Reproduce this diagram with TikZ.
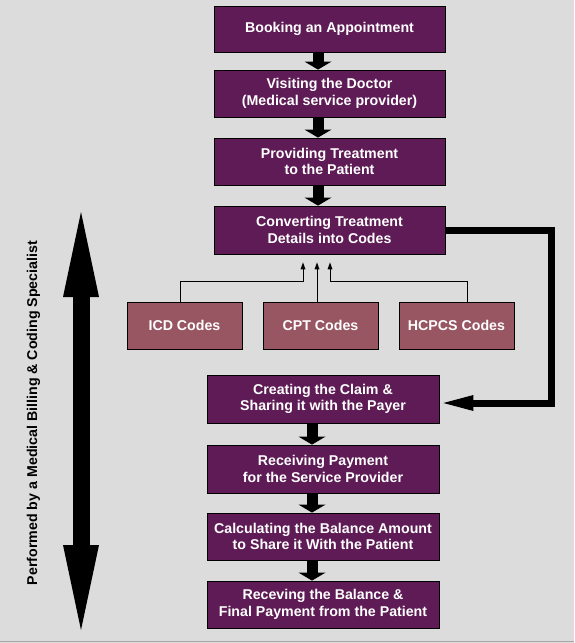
\documentclass[tikz,border=0pt]{standalone}
\usepackage{fontspec}
\setmainfont{Liberation Sans}
\usetikzlibrary{arrows.meta,calc}
\definecolor{bg}{HTML}{DCDCDC}
\definecolor{plum}{HTML}{5E1B55}
\definecolor{rose}{HTML}{985663}
\tikzset{
  stepbox/.style={draw=black, line width=0.8pt, fill=plum, text=white, inner sep=0pt,
    minimum width=231pt, minimum height=47pt, align=center,
    font=\fontsize{14.2}{16.5}\selectfont\bfseries},
  codebox/.style={draw=black, line width=0.8pt, fill=rose, text=white, inner sep=0pt,
    minimum width=115pt, minimum height=47pt, align=center,
    font=\fontsize{14.2}{16.5}\selectfont\bfseries},
  blockarrow/.style={line width=11pt, -{Triangle[length=8pt,width=27pt,line width=0pt]}},
  thinarrow/.style={line width=0.8pt, -{Triangle[length=7pt,width=5pt,line width=0pt]}},
  looparrow/.style={line width=7pt, -{Triangle[length=30pt,width=16pt,line width=0pt]}},
  bigarrow/.style={line width=17pt, {Triangle[length=85pt,width=36pt,line width=0pt]}-{Triangle[length=85pt,width=36pt,line width=0pt]}},
}
\begin{document}
\begin{tikzpicture}[x=1pt,y=-1pt]
\fill[bg] (0,0) rectangle (574,643);
\useasboundingbox (0,0) rectangle (574,643);
\draw[gray!70, line width=1pt] (0,641.5) -- (574,641.5);

\node[stepbox, minimum height=46pt] (b1) at (329.5,29) {Booking an Appointment};
\node[stepbox] (b2) at (329.5,93.5) {Visiting the Doctor\\(Medical service provider)};
\node[stepbox] (b3) at (329.5,161.5) {Providing Treatment\\ to the Patient};
\node[stepbox, minimum height=48pt] (b4) at (329.5,230) {Converting Treatment\\Details into Codes};

\node[codebox] (c1) at (184.5,325.5) {ICD Codes};
\node[codebox] (c2) at (320.5,325.5) {CPT Codes};
\node[codebox] (c3) at (456.5,325.5) {HCPCS Codes};

\node[stepbox, minimum width=232pt, minimum height=48pt] (b5) at (323,399) {Creating the Claim \&\\Sharing it with the Payer};
\node[stepbox, minimum width=232pt, minimum height=48pt] (b6) at (323,469) {Receiving Payment\\for the Service Provider};
\node[stepbox, minimum width=232pt] (b7) at (323,536.5) {Calculating the Balance Amount\\ to Share it With the Patient};
\node[stepbox, minimum width=232pt] (b8) at (323,604.5) {Receving the Balance \&\\Final Payment from the Patient};

% block arrows between steps
\coordinate (ua) at (318,0);
\coordinate (la) at (312,0);
\draw[blockarrow] (b1.south -| ua) -- (b2.north -| ua);
\draw[blockarrow] (b2.south -| ua) -- (b3.north -| ua);
\draw[blockarrow] (b3.south -| ua) -- (b4.north -| ua);
\draw[blockarrow] (b5.south -| la) -- (b6.north -| la);
\draw[blockarrow] (b6.south -| la) -- (b7.north -| la);
\draw[blockarrow] (b7.south -| la) -- (b8.north -| la);

% code connectors
\draw[thinarrow] ($(c1.north)+(-4.5,0)$) |- (303,281) -- ($(b4.south -| 303,0)+(0,8)$);
\draw[thinarrow] ($(c2.north)+(-3.5,0)$) -- ($(b4.south -| 317,0)+(0,8)$);
\draw[thinarrow] ($(c3.north)+(10.5,0)$) |- (330,281) -- ($(b4.south -| 330,0)+(0,8)$);

% loop arrow
\coordinate (lt) at (551,230.5);
\coordinate (lb) at (551,403);
\draw[looparrow] (b4.east |- lt) -- (lt) -- (lb) -- ($(b5.east |- lb)+(4,0)$);

% big double arrow
\coordinate (dt) at (81,212);
\coordinate (db) at (81,630);
\draw[bigarrow] (dt) -- (db);
\node[rotate=90, font=\fontsize{14.2}{16}\selectfont\bfseries] (lbl) at (33.5,413) {Performed by a Medical Billing \& Coding Specialist};
\end{tikzpicture}
\end{document}
